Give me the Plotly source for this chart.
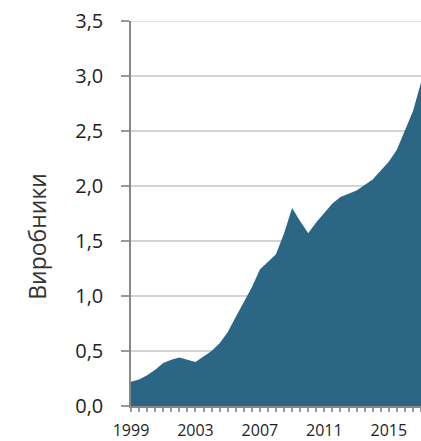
import plotly.graph_objects as go

# Semi-annual readings (million units)
periods = [1999.0, 1999.5, 2000.0, 2000.5, 2001.0, 2001.5, 2002.0, 2002.5,
           2003.0, 2003.5, 2004.0, 2004.5, 2005.0, 2005.5, 2006.0, 2006.5,
           2007.0, 2007.5, 2008.0, 2008.5, 2009.0, 2009.5, 2010.0, 2010.5,
           2011.0, 2011.5, 2012.0, 2012.5, 2013.0, 2013.5, 2014.0, 2014.5,
           2015.0, 2015.5, 2016.0, 2016.5, 2017.0]
producers = [0.22, 0.24, 0.28, 0.33, 0.39, 0.42, 0.44, 0.42,
             0.40, 0.45, 0.50, 0.57, 0.67, 0.81, 0.95, 1.08,
             1.24, 1.31, 1.38, 1.57, 1.80, 1.68, 1.57, 1.67,
             1.76, 1.84, 1.90, 1.93, 1.96, 2.01, 2.06, 2.14,
             2.22, 2.33, 2.50, 2.68, 2.94]

label_years = [1999, 2003, 2007, 2011, 2015]
y_ticks = [0, 0.5, 1.0, 1.5, 2.0, 2.5, 3.0, 3.5]
y_max = 3.5
y_title = "Виробники"

fill_color = "#2b6784"
grid_color = "#d4d4d4"
font_family = "Open Sans, Lato, DejaVu Sans, sans-serif"

fig = go.Figure()
fig.add_trace(go.Scatter(
    x=periods, y=producers, mode="lines", fill="tozeroy",
    fillcolor=fill_color, line=dict(width=0, color=fill_color),
    hoverinfo="skip", showlegend=False,
))

fig.update_layout(
    width=421, height=441,
    margin=dict(l=131, r=0, t=21, b=33),
    paper_bgcolor="white", plot_bgcolor="white",
    separators=",.",
    font=dict(family=font_family, color="#1e1e1e"),
    xaxis=dict(
        range=[1999, 2017], tickmode="array", tickvals=label_years,
        ticktext=[str(v) for v in label_years],
        showgrid=False, zeroline=False,
        showline=True, linecolor="#888888", linewidth=1.5,
        ticks="outside", ticklen=4, tickcolor="#999999", tickwidth=1.5,
        minor=dict(dtick=0.5, tick0=1999, ticks="outside", ticklen=4,
                   tickcolor="#999999", tickwidth=1.5, showgrid=False),
        tickfont=dict(size=16, color="#1e1e1e"),
        ticklabelstandoff=5,
    ),
    yaxis=dict(
        range=[0, y_max], tickmode="array", tickvals=y_ticks, tickformat=".1f",
        showgrid=True, gridcolor=grid_color, gridwidth=1.5, zeroline=False,
        showline=True, linecolor="#888888", linewidth=1.5,
        ticks="outside", ticklen=8, tickcolor="#999999", tickwidth=1.5,
        tickfont=dict(size=20, color="#1e1e1e"),
        ticklabelstandoff=14, ticklabeloverflow="allow",
    ),
    shapes=[dict(
        type="line", xref="paper", yref="y", x0=0, x1=1, y0=y_max, y1=y_max,
        line=dict(color=grid_color, width=1.5), layer="below",
    )],
    annotations=[dict(
        text=y_title, xref="paper", yref="paper",
        x=-0.327, y=0.44, xanchor="center", yanchor="middle",
        textangle=-90, showarrow=False,
        font=dict(size=23, color="#333333", family=font_family),
    )],
)

fig.write_html(
    "out.html",
    config={"displayModeBar": False},
    post_script="document.body.style.margin='0';document.body.style.overflow='hidden';",
)
